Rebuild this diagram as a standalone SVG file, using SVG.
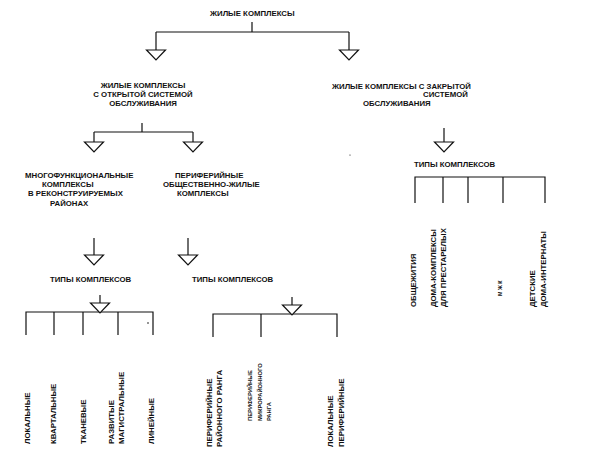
<svg xmlns="http://www.w3.org/2000/svg" xmlns:xlink="http://www.w3.org/1999/xlink" width="595" height="461" viewBox="0 0 595 461">
<style>
.t{font-family:"Liberation Sans","Arial",sans-serif;font-weight:bold;font-size:7.8px;fill:#111}
.s{font-size:5.8px}
.m{font-size:5.4px}
.c{stroke:#111;stroke-width:1.2;fill:none}
.tri{stroke:#111;stroke-width:1.2;fill:#fff}
</style>
<defs>
<path id="tri" class="tri" d="M-9.5,0 L9.5,0 L0,10 Z"/>
</defs>
<rect width="595" height="461" fill="#fff"/>
<g id="connectors">
<path class="c" d="M252,22 V32 M156,32 H349 M156,32 V50 M349,32 V50"/>
<use xlink:href="#tri" transform="translate(156,50)"/>
<use xlink:href="#tri" transform="translate(349,50)"/>
<path class="c" d="M142,123 V132 M94,132 H193 M94,132 V142 M193,132 V142"/>
<use xlink:href="#tri" transform="translate(94,142)"/>
<use xlink:href="#tri" transform="translate(193,142)"/>
<path class="c" d="M444,128 V142"/>
<use xlink:href="#tri" transform="translate(444,142)"/>
<path class="c" d="M415,203 V177 H545 V203 M443,177 V203 M468,177 V203 M503,177 V203"/>
<path class="c" d="M94,238 V255 M188,238 V255"/>
<use xlink:href="#tri" transform="translate(94,255)"/>
<use xlink:href="#tri" transform="translate(188,255)"/>
<path class="c" d="M100,295 V303"/>
<path class="c" d="M26,335 V312 H153 V335 M54,312 V335 M83,312 V335 M118,312 V335"/>
<use xlink:href="#tri" transform="translate(100,303)"/>
<path class="c" d="M292,297 V305"/>
<path class="c" d="M213,337 V314 H337 V337 M261,314 V337"/>
<use xlink:href="#tri" transform="translate(292,305)"/>
<circle cx="148" cy="323" r="0.8" fill="#111"/>
<circle cx="350" cy="155" r="0.6" fill="#111"/>
</g>
<g id="root"><text class="t" x="210" y="16">ЖИЛЫЕ КОМПЛЕКСЫ</text></g>
<g id="open">
<text class="t" x="143" y="88" text-anchor="middle">ЖИЛЫЕ КОМПЛЕКСЫ</text>
<text class="t" x="143" y="97" text-anchor="middle">С ОТКРЫТОЙ СИСТЕМОЙ</text>
<text class="t" x="143" y="106" text-anchor="middle">ОБСЛУЖИВАНИЯ</text>
</g>
<g id="closed">
<text class="t" x="332" y="89">ЖИЛЫЕ КОМПЛЕКСЫ С ЗАКРЫТОЙ</text>
<text class="t" x="423" y="97">СИСТЕМОЙ</text>
<text class="t" x="363" y="106">ОБСЛУЖИВАНИЯ</text>
</g>
<g id="multi">
<text class="t" x="25" y="178">МНОГОФУНКЦИОНАЛЬНЫЕ</text>
<text class="t" x="42" y="187">КОМПЛЕКСЫ</text>
<text class="t" x="28" y="196">В РЕКОНСТРУИРУЕМЫХ</text>
<text class="t" x="50" y="205.5">РАЙОНАХ</text>
</g>
<g id="peripheral">
<text class="t" x="175" y="178">ПЕРИФЕРИЙНЫЕ</text>
<text class="t" x="163" y="187">ОБЩЕСТВЕННО-ЖИЛЫЕ</text>
<text class="t" x="177" y="196">КОМПЛЕКСЫ</text>
</g>
<g id="types-closed"><text class="t" x="414" y="167">ТИПЫ КОМПЛЕКСОВ</text></g>
<g id="types-multi"><text class="t" x="50" y="282">ТИПЫ КОМПЛЕКСОВ</text></g>
<g id="types-peripheral"><text class="t" x="192" y="282">ТИПЫ КОМПЛЕКСОВ</text></g>
<g id="leaf-local"><text class="t" transform="translate(30,444) rotate(-90)">ЛОКАЛЬНЫЕ</text></g>
<g id="leaf-quarter"><text class="t" transform="translate(55.5,444) rotate(-90)">КВАРТАЛЬНЫЕ</text></g>
<g id="leaf-tissue"><text class="t" transform="translate(85.5,444) rotate(-90)">ТКАНЕВЫЕ</text></g>
<g id="leaf-trunk"><text class="t" transform="translate(114,444) rotate(-90)">РАЗВИТЫЕ</text><text class="t" transform="translate(123.5,444) rotate(-90)">МАГИСТРАЛЬНЫЕ</text></g>
<g id="leaf-linear"><text class="t" transform="translate(154,444) rotate(-90)">ЛИНЕЙНЫЕ</text></g>
<g id="leaf-district"><text class="t" transform="translate(211.5,447) rotate(-90)">ПЕРИФЕРИЙНЫЕ</text><text class="t" transform="translate(222,447) rotate(-90)">РАЙОННОГО РАНГА</text></g>
<g id="leaf-micro"><text class="t s" transform="translate(252,421) rotate(-90)">ПЕРИФЕРИЙНЫЕ</text><text class="t s" transform="translate(262,421) rotate(-90)">МИКРОРАЙОННОГО</text><text class="t s" transform="translate(271,421) rotate(-90)">РАНГА</text></g>
<g id="leaf-localper"><text class="t" transform="translate(333,447) rotate(-90)">ЛОКАЛЬНЫЕ</text><text class="t" transform="translate(343.5,447) rotate(-90)">ПЕРИФЕРИЙНЫЕ</text></g>
<g id="leaf-dorm"><text class="t" transform="translate(416,307) rotate(-90)">ОБЩЕЖИТИЯ</text></g>
<g id="leaf-elderly"><text class="t" transform="translate(436,307) rotate(-90)">ДОМА-КОМПЛЕКСЫ</text><text class="t" transform="translate(446,307) rotate(-90)">ДЛЯ ПРЕСТАРЕЛЫХ</text></g>
<g id="leaf-mzhk"><text class="t m" transform="translate(501.5,296) rotate(-90)">М Ж К</text></g>
<g id="leaf-children"><text class="t" transform="translate(535,307) rotate(-90)">ДЕТСКИЕ</text><text class="t" transform="translate(546,307) rotate(-90)">ДОМА-ИНТЕРНАТЫ</text></g>
</svg>
